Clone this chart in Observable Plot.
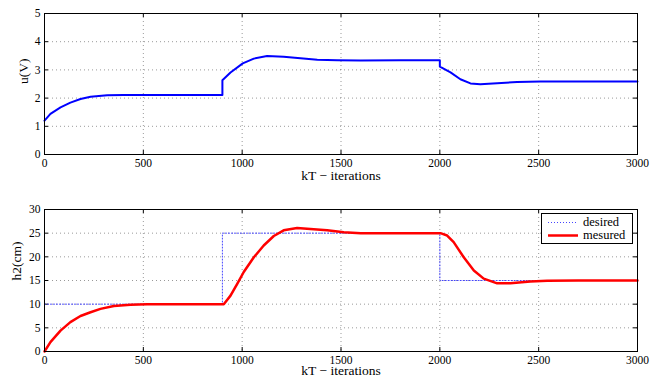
<!DOCTYPE html>
<html>
<head>
<meta charset="utf-8">
<script src="https://cdn.jsdelivr.net/npm/d3@7"></script>
<script src="https://cdn.jsdelivr.net/npm/@observablehq/plot@0.6"></script>
<style>
  html, body { margin: 0; padding: 0; background: #fff; }
  #wrap { position: relative; width: 664px; height: 377px; font-family: "Liberation Serif", "DejaVu Serif", serif; }
  #wrap svg, #wrap svg text { font-family: "Liberation Serif", "DejaVu Serif", serif !important; }
  #top, #bottom { position: absolute; left: 0; }
  #top { top: 0; }
  #bottom { top: 190px; }
  #legend { position: absolute; left: 541px; top: 213px; width: 90px; height: 29px; border: 1px solid #000; background: #fff; font-size: 12.5px; }
  #legend .row { position: absolute; left: 0; height: 12px; line-height: 12px; }
  #legend svg { position: absolute; left: 6px; top: 1.5px; }
  #legend span { position: absolute; left: 41px; top: 0; white-space: nowrap; }
</style>
</head>
<body>
<div id="wrap">
  <div id="top"></div>
  <div id="bottom"></div>
  <div id="legend"></div>
</div>
<script>
// ---- data ----
const xTicks = [0, 500, 1000, 1500, 2000, 2500, 3000];
const uTicks = [0, 1, 2, 3, 4, 5];
const hTicks = [0, 5, 10, 15, 20, 25, 30];

// control signal u(V)
const uK = [0, 30, 81, 131, 182, 233, 317, 400, 500, 600, 700, 800, 900,
            900, 941, 1003, 1059, 1126, 1210, 1295, 1380, 1481, 1600, 1800, 2000,
            2000, 2054, 2104, 2155, 2205, 2290, 2391, 2509, 2700, 3000];
const uV = [1.2, 1.44, 1.67, 1.84, 1.97, 2.05, 2.1, 2.11, 2.11, 2.11, 2.11, 2.11, 2.11,
            2.63, 2.91, 3.23, 3.4, 3.49, 3.47, 3.41, 3.36, 3.34, 3.33, 3.34, 3.34,
            3.12, 2.91, 2.67, 2.52, 2.49, 2.53, 2.57, 2.59, 2.59, 2.59];

// desired level
const desK = [0, 900, 2000, 3000];
const desH = [10, 25, 15, 15];

// measured level h2(cm)
const mesK = [0, 30, 81, 131, 182, 233, 283, 351, 435, 520, 700, 907,
              941, 975, 1008, 1059, 1109, 1160, 1210, 1278, 1345, 1430, 1514, 1600, 1800, 2003,
              2037, 2070, 2121, 2172, 2222, 2290, 2357, 2458, 2543, 2700, 3000];
const mesH = [0, 1.97, 4.4, 6.2, 7.5, 8.3, 9.0, 9.6, 9.9, 10, 10, 10,
              11.8, 14.3, 16.8, 19.9, 22.4, 24.4, 25.6, 26.1, 25.9, 25.6, 25.2, 25.0, 25.0, 25.0,
              24.5, 23.1, 19.9, 17.1, 15.4, 14.4, 14.4, 14.8, 14.95, 15, 15];

const uData = uK.map((k, i) => ({k, v: uV[i]}));
const desData = desK.map((k, i) => ({k, v: desH[i]}));
const mesData = mesK.map((k, i) => ({k, v: mesH[i]}));

const font = "Liberation Serif";
const gridStyle = {stroke: "#000", strokeOpacity: 0.5, strokeDasharray: "1,3", strokeWidth: 0.8};

function inwardTicks(yTicks, innerH, innerW) {
  const L = 4;
  return [
    Plot.ruleX(xTicks, {x: d => d, insetTop: innerH - L, stroke: "#000"}),
    Plot.ruleX(xTicks, {x: d => d, insetBottom: innerH - L, stroke: "#000"}),
    Plot.ruleY(yTicks, {y: d => d, insetRight: innerW - L, stroke: "#000"}),
    Plot.ruleY(yTicks, {y: d => d, insetLeft: innerW - L, stroke: "#000"})
  ];
}

function baseMarks(yTicks, yLabel, yLabelDx, innerH, innerW, xlabDy) {
  return [
    Plot.ruleX(xTicks.slice(1, -1), {x: d => d, ...gridStyle}),
    Plot.ruleY(yTicks.slice(1, -1), {y: d => d, ...gridStyle}),
    ...inwardTicks(yTicks, innerH, innerW),
    Plot.axisX(xTicks, {tickSize: 0, tickPadding: 4, label: null, fontSize: 11.5, tickFormat: d => String(d)}),
    Plot.axisY(yTicks, {tickSize: 0, tickPadding: 4, label: null, fontSize: 11.5, tickFormat: d => String(d)}),
    Plot.text(["kT − iterations"], {frameAnchor: "bottom", lineAnchor: "top", dy: xlabDy, fontSize: 13.5, fill: "#000"}),
    Plot.text([yLabel], {frameAnchor: "left", rotate: -90, dx: yLabelDx, fontSize: 13.5, fill: "#000"})
  ];
}

// ---- top plot ----
const W = 664, mL = 44, mR = 27;
const topH = 190, topMT = 13, topMB = 36;
const topPlot = Plot.plot({
  width: W, height: topH,
  marginLeft: mL, marginRight: mR, marginTop: topMT, marginBottom: topMB,
  style: {fontFamily: font, fontSize: "11px", color: "#000", background: "transparent", overflow: "visible"},
  x: {domain: [0, 3000]},
  y: {domain: [0, 5]},
  marks: [
    ...baseMarks(uTicks, "u(V)", -21, topH - topMT - topMB, W - mL - mR, 15.5),
    Plot.line(uData, {x: "k", y: "v", stroke: "#0000ff", strokeWidth: 2}),
    Plot.frame({stroke: "#000", strokeWidth: 1})
  ]
});
document.getElementById("top").appendChild(topPlot);

// ---- bottom plot ----
const botH = 187, botMT = 19, botMB = 26;
const botPlot = Plot.plot({
  width: W, height: botH,
  marginLeft: mL, marginRight: mR, marginTop: botMT, marginBottom: botMB,
  style: {fontFamily: font, fontSize: "11px", color: "#000", background: "transparent", overflow: "visible"},
  x: {domain: [0, 3000]},
  y: {domain: [0, 30]},
  marks: [
    ...baseMarks(hTicks, "h2(cm)", -28, botH - botMT - botMB, W - mL - mR, 14),
    Plot.line(desData, {x: "k", y: "v", curve: "step-after", stroke: "#4444ff", strokeWidth: 1, strokeDasharray: "1,2"}),
    Plot.line(mesData, {x: "k", y: "v", stroke: "#ff0000", strokeWidth: 2.5}),
    Plot.frame({stroke: "#000", strokeWidth: 1})
  ]
});
document.getElementById("bottom").appendChild(botPlot);

// ---- legend ----
const series = [
  {name: "desired", color: "#4444ff", dash: "1,2", width: 1},
  {name: "mesured", color: "#ff0000", dash: null, width: 2.5}
];
const legend = document.getElementById("legend");
series.forEach((s, i) => {
  const row = document.createElement("div");
  row.className = "row";
  row.style.top = (2 + i * 13) + "px";
  row.style.width = "90px";
  row.innerHTML = `<svg width="32" height="9"><line x1="0" x2="30" y1="4.5" y2="4.5" stroke="${s.color}" stroke-width="${s.width}" ${s.dash ? `stroke-dasharray="${s.dash}"` : ""}/></svg><span>${s.name}</span>`;
  legend.appendChild(row);
});
</script>
</body>
</html>
